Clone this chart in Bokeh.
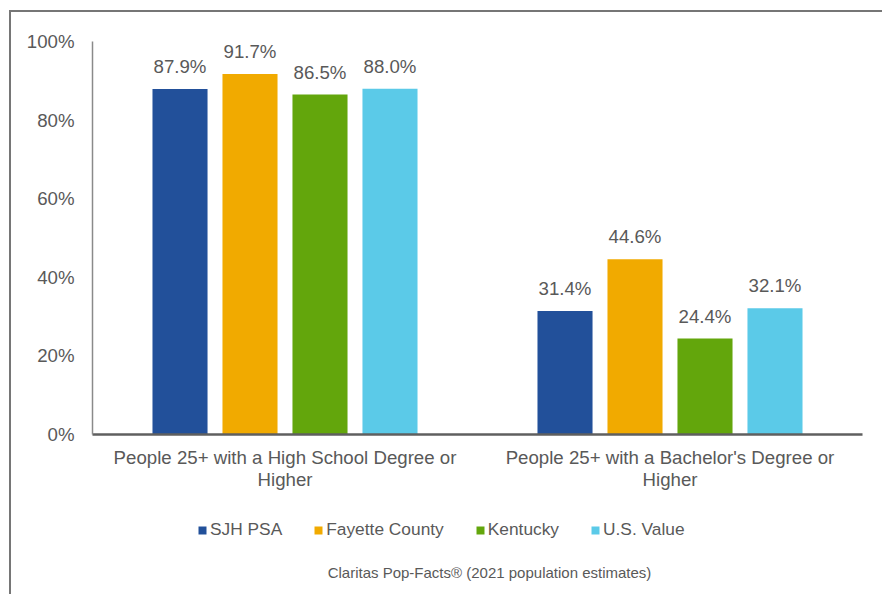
from bokeh.plotting import figure
from bokeh.models import (ColumnDataSource, Range1d, LabelSet, Legend, LegendItem,
                          FixedTicker, LinearAxis, Label)
from bokeh.layouts import column
from bokeh.core.properties import value
from bokeh.embed import file_html
from bokeh.resources import INLINE

categories = ["People 25+ with a High School Degree or Higher",
              "People 25+ with a Bachelor's Degree or Higher"]
category_line1 = ["People 25+ with a High School Degree or",
                  "People 25+ with a Bachelor's Degree or"]
category_line2 = ["Higher", "Higher"]
series_names = ["SJH PSA", "Fayette County", "Kentucky", "U.S. Value"]
sjh_psa = [87.9, 31.4]
fayette_county = [91.7, 44.6]
kentucky = [86.5, 24.4]
us_value = [88.0, 32.1]
y_ticks = [0, 20, 40, 60, 80, 100]
y_tick_labels = ["0%", "20%", "40%", "60%", "80%", "100%"]
source_note = "Claritas Pop-Facts\u00ae (2021 population estimates)"

colors = ["#22509A", "#F1AA00", "#63A60C", "#5BCAE8"]
series_values = [sjh_psa, fayette_county, kentucky, us_value]
offsets = [-0.2727, -0.0909, 0.0909, 0.2727]

FONT = "Liberation Sans"
TXT = "#595959"
BIG = "18.67px"
W = 871
HA = 482
HB = 100
BL, BR = 81, 20

centers = [i + 0.5 for i in range(len(categories))]
data = {"xc": centers}
keys = ["s0", "s1", "s2", "s3"]
for k, off, vals in zip(keys, offsets, series_values):
    data[k] = vals
    data[k + "_x"] = [c + off for c in centers]
    data[k + "_lbl"] = [f"{v:.1f}%" for v in vals]
src = ColumnDataSource(data)

# ---- main chart ----
p = figure(x_range=Range1d(0, len(categories)), y_range=(0, 100), width=W, height=HA,
           output_backend="svg", toolbar_location=None,
           min_border_left=BL, min_border_right=BR, min_border_top=29, min_border_bottom=60)
p.outline_line_color = None
p.grid.grid_line_color = None

for k, c in zip(keys, colors):
    p.vbar(x=k + "_x", top=k, width=0.143, source=src, fill_color=c, line_color=None)
    p.add_layout(LabelSet(x=k + "_x", y=k, text=k + "_lbl", source=src,
                          text_align="center", text_baseline="bottom", y_offset=12,
                          text_font=value(FONT), text_font_size=BIG, text_color=TXT))

p.yaxis.ticker = FixedTicker(ticks=y_ticks)
p.yaxis.major_label_overrides = dict(zip(y_ticks, y_tick_labels))
p.yaxis.major_tick_line_color = None
p.yaxis.minor_tick_line_color = None
p.yaxis.major_label_standoff = 12
p.yaxis.axis_line_color = "#8a8a8a"
p.yaxis.axis_line_width = 1.5

ax1 = p.xaxis[0]
ax1.ticker = FixedTicker(ticks=centers)
ax1.major_label_overrides = dict(zip(centers, category_line1))
ax1.major_tick_line_color = None
ax1.minor_tick_line_color = None
ax1.major_label_standoff = 6
ax1.axis_line_color = "#5f5f5f"
ax1.axis_line_width = 2.5

ax2 = LinearAxis(ticker=FixedTicker(ticks=centers),
                 major_label_overrides=dict(zip(centers, category_line2)),
                 major_tick_line_color=None, minor_tick_line_color=None,
                 axis_line_color=None, major_label_standoff=-8)
p.add_layout(ax2, "below")

for ax in (ax1, ax2, p.yaxis[0]):
    ax.major_label_text_font = FONT
    ax.major_label_text_font_size = BIG
    ax.major_label_text_color = TXT

# ---- legend + source strip ----
FW = W - BL - BR
b = figure(x_range=Range1d(0, FW), y_range=Range1d(0, HB), width=W, height=HB,
           output_backend="svg", toolbar_location=None,
           x_axis_location=None, y_axis_location=None,
           min_border_left=BL, min_border_right=BR, min_border_top=0, min_border_bottom=0)
b.outline_line_color = None
b.grid.grid_line_color = None

items = []
for c, name in zip(colors, series_names):
    # legend proxy: a zero-height bar that draws nothing in the strip
    r = b.vbar(x=[0], top=[0], width=0, fill_color=c, line_color=None)
    items.append(LegendItem(label=name, renderers=[r]))

legend = Legend(items=items, orientation="horizontal", location=(105, 54),
                label_text_font=FONT, label_text_font_size="17.33px",
                label_text_color=TXT, glyph_width=10, glyph_height=10,
                label_standoff=3, spacing=31, border_line_color=None,
                background_fill_alpha=0, padding=0, margin=0)
b.add_layout(legend)

b.add_layout(Label(x=397, y=22, text=source_note, text_align="center",
                   text_baseline="middle", text_font=FONT, text_font_size="15px",
                   text_color=TXT))

layout = column(p, b, spacing=0,
                styles={"border-top": "2px solid #767676", "border-left": "2px solid #767676",
                        "margin-left": "9px", "margin-top": "10px"})

open("out.html", "w").write(file_html(layout, INLINE))
